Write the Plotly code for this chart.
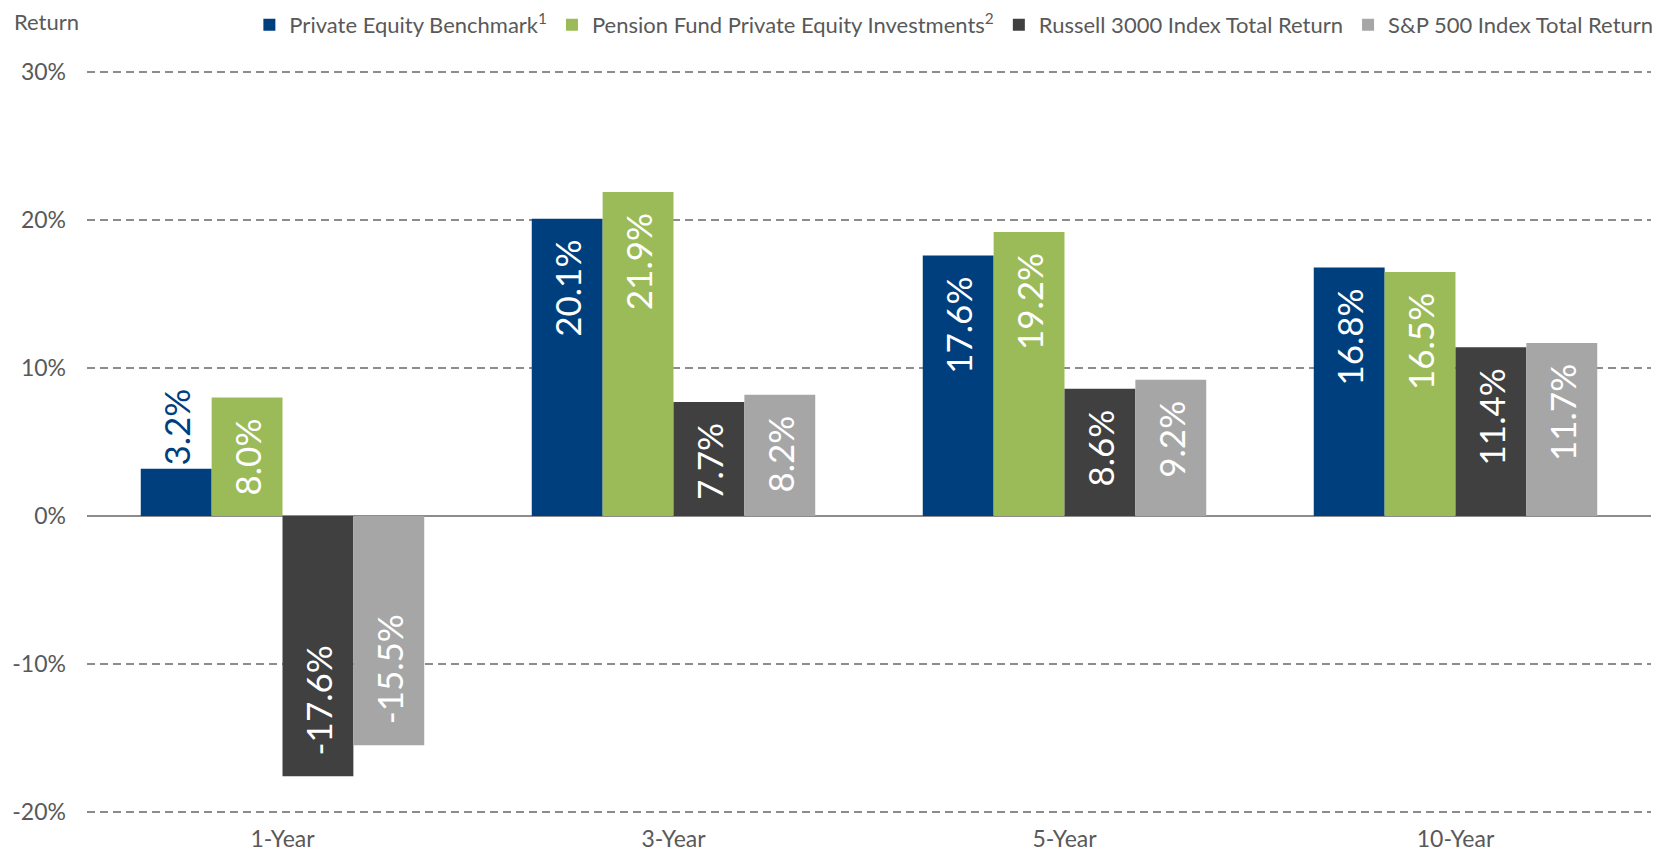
import plotly.graph_objects as go

categories = ["1-Year", "3-Year", "5-Year", "10-Year"]
series_names = [
    "Private Equity Benchmark<sup>1</sup>",
    "Pension Fund Private Equity Investments<sup>2</sup>",
    "Russell 3000 Index Total Return",
    "S&P 500 Index Total Return",
]
pe_benchmark = [3.2, 20.1, 17.6, 16.8]
pension_pe = [8.0, 21.9, 19.2, 16.5]
russell_3000 = [-17.6, 7.7, 8.6, 11.4]
sp_500 = [-15.5, 8.2, 9.2, 11.7]
colors = ["#003F7D", "#9BBB59", "#404040", "#A6A6A6"]
tick_vals = [-20, -10, 0, 10, 20, 30]
tick_text = ["-20%", "-10%", "0%", "10%", "20%", "30%"]

FONT = "Lato"
NB = "\u00a0"

fig = go.Figure()
for name, vals, col in zip(series_names, [pe_benchmark, pension_pe, russell_3000, sp_500], colors):
    texts = []
    positions = []
    for v in vals:
        lbl = f"{v:.1f}%"
        if abs(v) < 5:
            texts.append(lbl)
            positions.append("outside")
        elif v >= 0:
            texts.append(lbl + NB + NB)
            positions.append("inside")
        else:
            texts.append(NB + NB + lbl)
            positions.append("inside")
    fig.add_trace(go.Bar(
        x=categories, y=vals, name=name,
        marker=dict(color=col, line=dict(width=0)),
        text=texts, textposition=positions, textangle=-90,
        insidetextanchor="end",
        insidetextfont=dict(color="white", size=35, family=FONT),
        outsidetextfont=dict(color=col, size=35, family=FONT),
        constraintext="none", cliponaxis=False,
    ))

# page body has an 8px margin: the figure is offset by (8, 8)
W, H = 1657, 846
fig.update_layout(
    width=W, height=H,
    barmode="group", bargap=0.275, bargroupgap=0,
    plot_bgcolor="white", paper_bgcolor="white",
    margin=dict(l=79, r=14, t=63, b=41, autoexpand=False),
    font=dict(family=FONT, color="#595959"),
    showlegend=True,
    legend=dict(
        orientation="h", xref="container", yref="container",
        x=0.996, xanchor="right", y=1 - 17 / H, yanchor="middle",
        font=dict(size=22, color="#595959", family=FONT),
        itemwidth=30, traceorder="normal",
        bgcolor="rgba(0,0,0,0)",
    ),
    annotations=[dict(
        text="Return", xref="paper", yref="paper",
        x=-75 / 1556, y=1 + 50 / 742, xanchor="left", yanchor="middle",
        showarrow=False, font=dict(size=22, color="#595959", family=FONT),
    )],
)
fig.update_yaxes(
    range=[-20.08, 30.08], tickvals=tick_vals, ticktext=tick_text,
    showgrid=True, gridcolor="#8C8C8C", griddash="8px,5px", gridwidth=1.5,
    zeroline=True, zerolinecolor="#8C8C8C", zerolinewidth=2,
    tickfont=dict(size=23, color="#595959", family=FONT),
    ticks="", showline=False, ticklabelstandoff=20, automargin=False,
)
fig.update_xaxes(
    showgrid=False, ticks="", showline=False,
    tickfont=dict(size=23, color="#595959", family=FONT),
    ticklabelstandoff=10, automargin=False,
)

fig.write_html("out.html")
